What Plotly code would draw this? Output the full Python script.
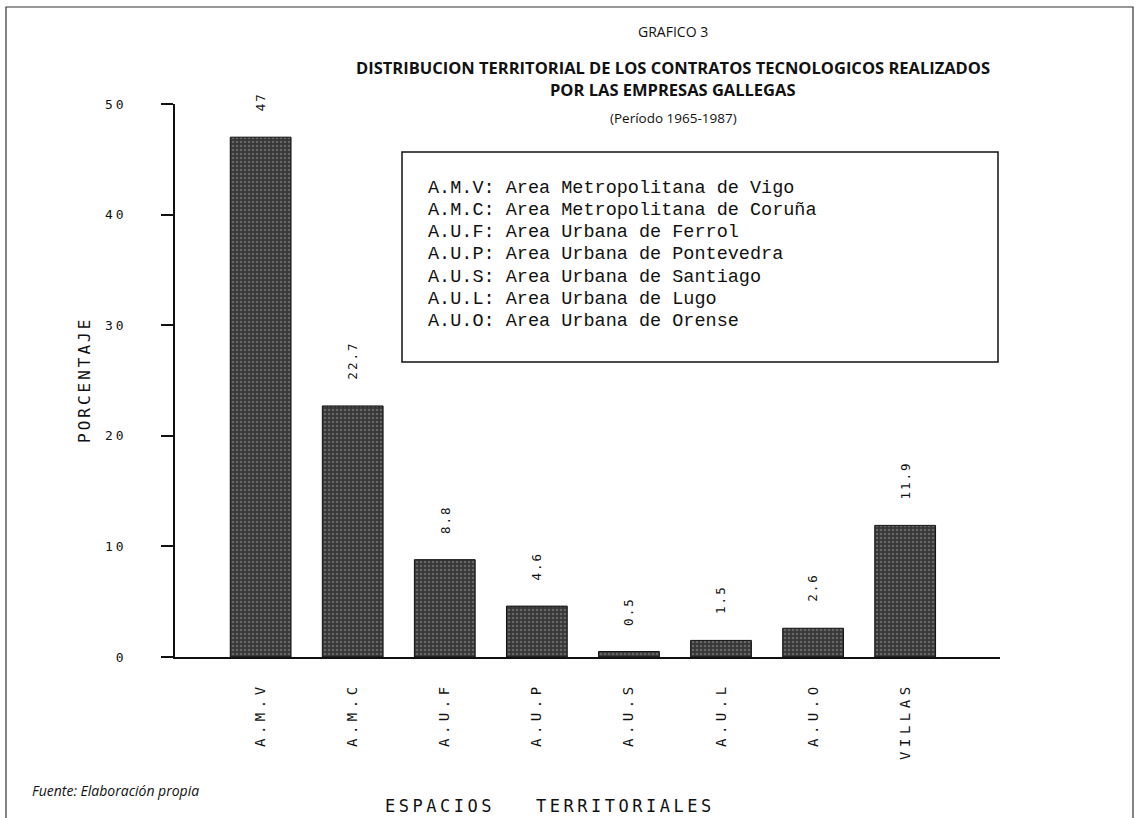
import plotly.graph_objects as go

categories = ["A.M.V", "A.M.C", "A.U.F", "A.U.P", "A.U.S", "A.U.L", "A.U.O", "VILLAS"]
values = [47, 22.7, 8.8, 4.6, 0.5, 1.5, 2.6, 11.9]
value_labels = ["47", "22.7", "8.8", "4.6", "0.5", "1.5", "2.6", "11.9"]
y_ticks = [0, 10, 20, 30, 40, 50]
legend_lines = [
    "A.M.V: Area Metropolitana de Vigo",
    "A.M.C: Area Metropolitana de Coruña",
    "A.U.F: Area Urbana de Ferrol",
    "A.U.P: Area Urbana de Pontevedra",
    "A.U.S: Area Urbana de Santiago",
    "A.U.L: Area Urbana de Lugo",
    "A.U.O: Area Urbana de Orense",
]

W, H = 1137, 818
L, R, T, B = 175, 137, 104, 161
PW, PH = W - L - R, H - T - B

def px(x):
    return (x - L) / PW

def py(y):
    return (H - B - y) / PH

def spaced(s, sp):
    return '<span style="letter-spacing:%spx">%s</span>' % (sp, s)

fig = go.Figure()
fig.add_trace(go.Bar(
    x=categories, y=values, width=0.66,
    marker=dict(color="#363636", line=dict(color="#111", width=1),
                pattern=dict(shape=".", fgcolor="#959595", bgcolor="#363636", size=4, solidity=0.35)),
    showlegend=False, hoverinfo="skip",
))

mono = "DejaVu Sans Mono"
for c, v, t in zip(categories, values, value_labels):
    fig.add_annotation(x=c, y=v, text=spaced(t, 2), showarrow=False, textangle=-90,
                       yanchor="bottom", yshift=24, font=dict(family=mono, size=12.5, color="#111"))

title_font = "Open Sans"
cx = px(673)
fig.add_annotation(x=cx, y=py(32), xref="paper", yref="paper", text="GRAFICO 3", showarrow=False,
                   yanchor="middle", font=dict(family=title_font, size=14, color="#111"))
fig.add_annotation(x=cx, y=py(67), xref="paper", yref="paper",
                   text="<b>DISTRIBUCION TERRITORIAL DE LOS CONTRATOS TECNOLOGICOS REALIZADOS</b>",
                   showarrow=False, yanchor="middle", font=dict(family=title_font, size=16.5, color="#111"))
fig.add_annotation(x=cx, y=py(89), xref="paper", yref="paper",
                   text="<b>POR LAS EMPRESAS GALLEGAS</b>", showarrow=False, yanchor="middle",
                   font=dict(family=title_font, size=16.5, color="#111"))
fig.add_annotation(x=cx, y=py(118), xref="paper", yref="paper",
                   text="(Período 1965-1987)", showarrow=False, yanchor="middle",
                   font=dict(family=title_font, size=13.5, color="#111"))

# legend box
fig.add_shape(type="rect", xref="paper", yref="paper", x0=px(402), x1=px(998), y0=py(362), y1=py(152),
              line=dict(color="#111", width=1.5), fillcolor="white", layer="above")
for i, line in enumerate(legend_lines):
    fig.add_annotation(x=px(426), y=py(188 + i * 22.3), xref="paper", yref="paper", text=line,
                       showarrow=False, xanchor="left", yanchor="middle",
                       font=dict(family="Liberation Mono", size=18.5, color="#111"))

fig.add_annotation(x=px(30), y=py(790), xref="paper", yref="paper", text="<i>Fuente: Elaboración propia</i>",
                   showarrow=False, xanchor="left", yanchor="middle",
                   font=dict(family=title_font, size=14, color="#111"))
fig.add_annotation(x=px(550), y=py(806), xref="paper", yref="paper",
                   text=spaced("ESPACIOS   TERRITORIALES", 3.5),
                   showarrow=False, yanchor="middle", xanchor="center",
                   font=dict(family=mono, size=17, color="#111"))
fig.add_annotation(x=px(84), y=py(380), xref="paper", yref="paper", text=spaced("PORCENTAJE", 3),
                   showarrow=False, textangle=-90, xanchor="center", yanchor="middle",
                   font=dict(family=mono, size=16, color="#111"))

# page frame (top, left, right)
fig.add_shape(type="path", xref="paper", yref="paper",
              path="M %f %f L %f %f L %f %f L %f %f" % (px(6), py(818), px(6), py(7), px(1133), py(7), px(1133), py(818)),
              line=dict(color="#333", width=1.2))

fig.update_layout(
    width=W, height=H, margin=dict(l=L, r=R, t=T, b=B),
    paper_bgcolor="white", plot_bgcolor="white", bargap=0.34,
    xaxis=dict(range=[-0.93, 8.03], showline=True, linecolor="#111", linewidth=1.5,
               ticks="", tickangle=-90, showgrid=False, zeroline=False,
               tickvals=categories, ticktext=[spaced(c, 4.5) for c in categories],
               ticklabelstandoff=18,
               tickfont=dict(family=mono, size=14, color="#111")),
    yaxis=dict(range=[0, 50], tickvals=y_ticks, ticktext=[spaced(str(t), 3) for t in y_ticks],
               showline=True, linecolor="#111", linewidth=1.5,
               ticks="outside", ticklen=12, tickwidth=1.5, tickcolor="#111",
               ticklabelstandoff=32, showgrid=False, zeroline=False,
               tickfont=dict(family=mono, size=13, color="#111")),
)

fig.write_html("out.html", post_script="document.body.style.margin='0';",
               config={"displayModeBar": False})
